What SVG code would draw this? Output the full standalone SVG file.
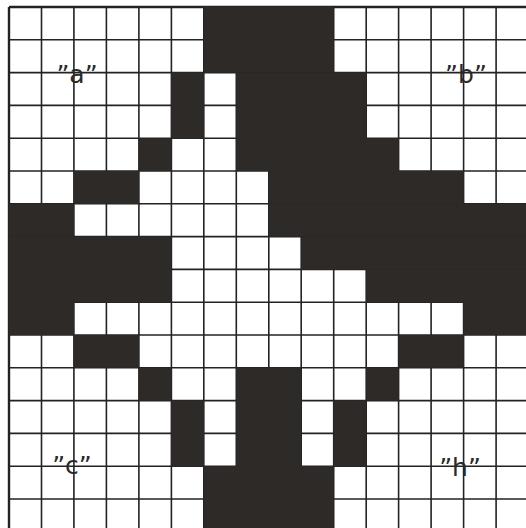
<svg xmlns="http://www.w3.org/2000/svg" width="526" height="528" viewBox="0 0 526 528">
<style>
.blk{fill:#2e2a28}
.ln{stroke:#232323;stroke-width:1.6;fill:none}
.lbl{font-family:"DejaVu Sans",sans-serif;font-size:25px;fill:#2a2a2a;text-anchor:middle}
</style>
<rect x="0" y="0" width="526" height="528" fill="#ffffff"/>
<g id="grid-lines" class="ln">
<path d="M9,7V528M41.5,7V528M73.9,7V528M106.4,7V528M138.9,7V528M171.4,7V528M203.8,7V528M236.3,7V528M268.8,7V528M301.2,7V528M333.7,7V528M366.2,7V528M398.6,7V528M431.1,7V528M463.6,7V528M496.1,7V528"/>
<path d="M9,7H526M9,39.8H526M9,72.6H526M9,105.4H526M9,138.2H526M9,171H526M9,203.8H526M9,236.6H526M9,269.4H526M9,302.2H526M9,335H526M9,367.8H526M9,400.6H526M9,433.4H526M9,466.2H526M9,499H526"/>
<path d="M9,7V528M9,7H526" stroke-width="2.4"/>
</g>
<g id="grid-cells" transform="translate(9,7) scale(32.47,32.8)" class="blk">
<rect x="6" y="0" width="4" height="2"/>
<rect x="5" y="2" width="1" height="2"/>
<rect x="7" y="2" width="4" height="2"/>
<rect x="4" y="4" width="1" height="1"/>
<rect x="7" y="4" width="5" height="1"/>
<rect x="2" y="5" width="2" height="1"/>
<rect x="8" y="5" width="6" height="1"/>
<rect x="0" y="6" width="2" height="1"/>
<rect x="8" y="6" width="8" height="1"/>
<rect x="0" y="7" width="5" height="2"/>
<rect x="9" y="7" width="7" height="1"/>
<rect x="11" y="8" width="5" height="1"/>
<rect x="0" y="9" width="2" height="1"/>
<rect x="14" y="9" width="2" height="1"/>
<rect x="2" y="10" width="2" height="1"/>
<rect x="12" y="10" width="2" height="1"/>
<rect x="4" y="11" width="1" height="1"/>
<rect x="7" y="11" width="2" height="3"/>
<rect x="11" y="11" width="1" height="1"/>
<rect x="5" y="12" width="1" height="2"/>
<rect x="10" y="12" width="1" height="2"/>
<rect x="6" y="14" width="4" height="2"/>
</g>
<g id="labels">
<text class="lbl" x="77" y="83">”a”</text>
<text class="lbl" x="466" y="83">”b”</text>
<text class="lbl" x="72" y="474">”c”</text>
<text class="lbl" x="460" y="476">”h”</text>
</g>
</svg>
